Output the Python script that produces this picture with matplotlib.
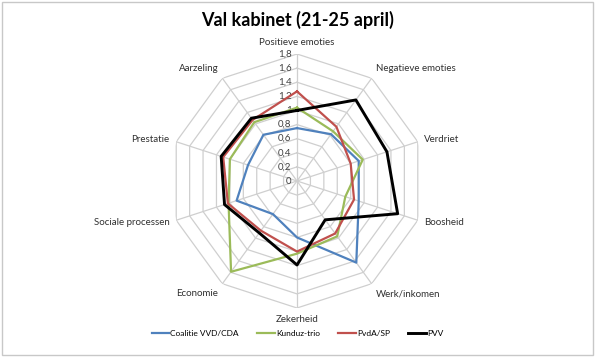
import numpy as np
import matplotlib.pyplot as plt
from matplotlib.patches import Rectangle

# -------------------------------
# Data
# -------------------------------
categories = ["Positieve emoties", "Negatieve emoties", "Verdriet", "Boosheid",
              "Werk/inkomen", "Zekerheid", "Economie", "Sociale processen",
              "Prestatie", "Aarzeling"]
coalitie = [0.75, 0.82, 0.92, 0.92, 1.43, 0.80, 0.58, 0.90, 0.73, 0.81]
kunduz = [1.04, 0.87, 0.98, 0.72, 0.97, 1.03, 1.59, 1.02, 1.00, 1.03]
pvda = [1.27, 0.95, 0.80, 0.85, 0.92, 1.00, 0.87, 1.03, 1.10, 1.07]
pvv = [1.00, 1.42, 1.34, 1.50, 0.68, 1.19, 0.91, 1.08, 1.13, 1.10]
series_names = ["Coalitie VVD/CDA", "Kunduz-trio", "PvdA/SP", "PVV"]
r_ticks = [0, 0.2, 0.4, 0.6, 0.8, 1.0, 1.2, 1.4, 1.6, 1.8]
r_labels = ["0", "0,2", "0,4", "0,6", "0,8", "1", "1,2", "1,4", "1,6", "1,8"]

plt.rcParams["font.family"] = ["Lato", "DejaVu Sans"]

# -------------------------------
# Figure / axes
# -------------------------------
W, H = 595, 357
fig = plt.figure(figsize=(W / 100, H / 100), dpi=100)
fig.patch.set_facecolor("white")
fig.add_artist(Rectangle((0.004, 0.006), 0.992, 0.988, transform=fig.transFigure,
                         fill=False, edgecolor="#C8C8C8", linewidth=1))

cx, cy, rad = 297, 181, 127
ax = fig.add_axes([(cx - rad) / W, (H - cy - rad) / H, 2 * rad / W, 2 * rad / H],
                  projection="polar")
ax.set_theta_zero_location("N")
ax.set_theta_direction(-1)
ax.set_ylim(0, 1.8)
ax.grid(False)
ax.set_xticks([])
ax.set_yticks([])
ax.spines["polar"].set_visible(False)
ax.patch.set_alpha(0)

n = len(categories)
angles = np.arange(n) * 2 * np.pi / n
closed = np.append(angles, angles[0])

# polygon grid + spokes
for r in r_ticks[1:]:
    ax.plot(closed, [r] * (n + 1), color="#CFCFCF", linewidth=0.9, zorder=1)
for a in angles:
    ax.plot([a, a], [0, 1.8], color="#CFCFCF", linewidth=0.9, zorder=1)

# radial tick labels along the top spoke
for r, lab in zip(r_ticks, r_labels):
    ax.annotate(lab, xy=(0, r), xytext=(-4, 0), textcoords="offset points",
                ha="right", va="center", fontsize=7, color="#404040")

# category labels at the outer vertices
for a, lab in zip(angles, categories):
    s, c = np.sin(a), np.cos(a)
    if abs(s) < 0.1:
        ha = "center"
    else:
        ha = "left" if s > 0 else "right"
    if abs(c) < 0.4:
        va = "center"
    else:
        va = "bottom" if c > 0 else "top"
    ax.annotate(lab, xy=(a, 1.8), xytext=(5 * s, 5 * c), textcoords="offset points",
                ha=ha, va=va, fontsize=7, color="#303030")

colors = ["#4F81BD", "#9BBB59", "#C0504D", "#000000"]
widths = [1.6, 1.6, 1.6, 2.1]
for vals, name, col, lw in zip([coalitie, kunduz, pvda, pvv], series_names, colors, widths):
    ax.plot(closed, vals + vals[:1], color=col, linewidth=lw, label=name, zorder=3)

fig.text(0.5, 1 - 20 / H, "Val kabinet (21-25 april)", ha="center", va="center",
         fontsize=13, fontweight="bold", color="#000000")

fig.legend(loc="center", bbox_to_anchor=(0.5, 1 - 333 / H), ncol=4, frameon=False,
           fontsize=6, handlelength=2.1, handletextpad=0.15, columnspacing=2.2)

fig.savefig("out.png", dpi=100)
plt.close(fig)
